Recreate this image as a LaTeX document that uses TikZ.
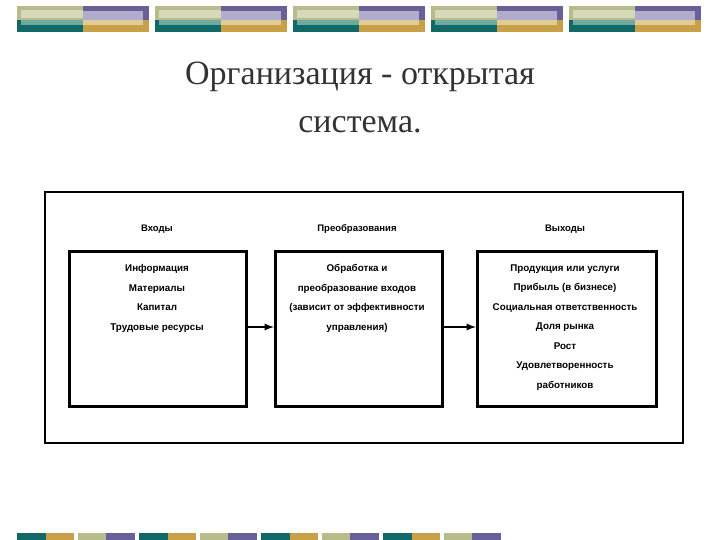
\documentclass[tikz,border=0pt]{standalone}
\usepackage{fontspec}
\setmainfont{Liberation Serif}
\newfontfamily\diag{Liberation Sans}
\definecolor{olv}{RGB}{184,188,140}
\definecolor{olvl}{RGB}{214,218,186}
\definecolor{tea}{RGB}{16,104,104}
\definecolor{teal2}{RGB}{110,170,160}
\definecolor{pur}{RGB}{104,96,152}
\definecolor{purl}{RGB}{176,172,204}
\definecolor{gld}{RGB}{200,160,72}
\definecolor{gldl}{RGB}{226,204,150}
\begin{document}
\begin{tikzpicture}[x=1pt,y=-1pt,
  box/.style={draw,line width=3pt,minimum width=177pt,minimum height=155pt,anchor=north west},
  hd/.style={font=\diag\bfseries\fontsize{9.5}{11}\selectfont},
  lst/.style={font=\diag\bfseries\fontsize{9.8}{19.5}\selectfont,align=center,anchor=north},
  arr/.style={-latex,line width=2.2pt}]
\useasboundingbox (0,0) rectangle (720,540);
\fill[white] (0,0) rectangle (720,540);
\foreach \g in {17,155,293,431,569}{
  \fill[olv] (\g,6) rectangle ++(66,14);
  \fill[olvl] (\g+4,10) rectangle ++(62,8);
  \fill[tea] (\g,20) rectangle ++(66,12);
  \fill[teal2] (\g+4,20) rectangle ++(62,5);
  \fill[pur] (\g+66,6) rectangle ++(66,14);
  \fill[purl] (\g+66,11) rectangle ++(60,9);
  \fill[gld] (\g+66,20) rectangle ++(66,12);
  \fill[gldl] (\g+66,20) rectangle ++(60,5);
}
\foreach \g in {17,139,261,383}{
  \fill[tea] (\g,533) rectangle ++(29,7);
  \fill[gld] (\g+29,533) rectangle ++(28,7);
  \fill[olv] (\g+61,533) rectangle ++(28,7);
  \fill[pur] (\g+89,533) rectangle ++(29,7);
}
\node[font=\fontsize{34}{48}\selectfont,align=center,text=black!80] (title) at (360,97) {Организация - открытая\\система.};
\draw[line width=2.2pt] (45,192) rectangle (683,443);
\node[box] (in) at (68,250) {};
\node[box,minimum width=167pt] (tr) at (274,250) {};
\node[box,minimum width=179pt] (out) at (476,250) {};
\node[hd] (h1) at (157,229) {Входы};
\node[hd] (h2) at (357,229) {Преобразования};
\node[hd] (h3) at (565,229) {Выходы};
\node[lst] (t1) at (157,261) {Информация\\Материалы\\Капитал\\Трудовые ресурсы};
\node[lst] (t2) at (357,261) {Обработка и\\преобразование входов\\(зависит от эффективности\\управления)};
\node[lst] (t3) at (565,261) {Продукция или услуги\\Прибыль (в бизнесе)\\Социальная ответственность\\Доля рынка\\Рост\\Удовлетворенность\\работников};
\draw[arr] (in.east |- 0,327) -- (tr.west |- 0,327);
\draw[arr] (tr.east |- 0,327) -- (out.west |- 0,327);
\end{tikzpicture}
\end{document}
